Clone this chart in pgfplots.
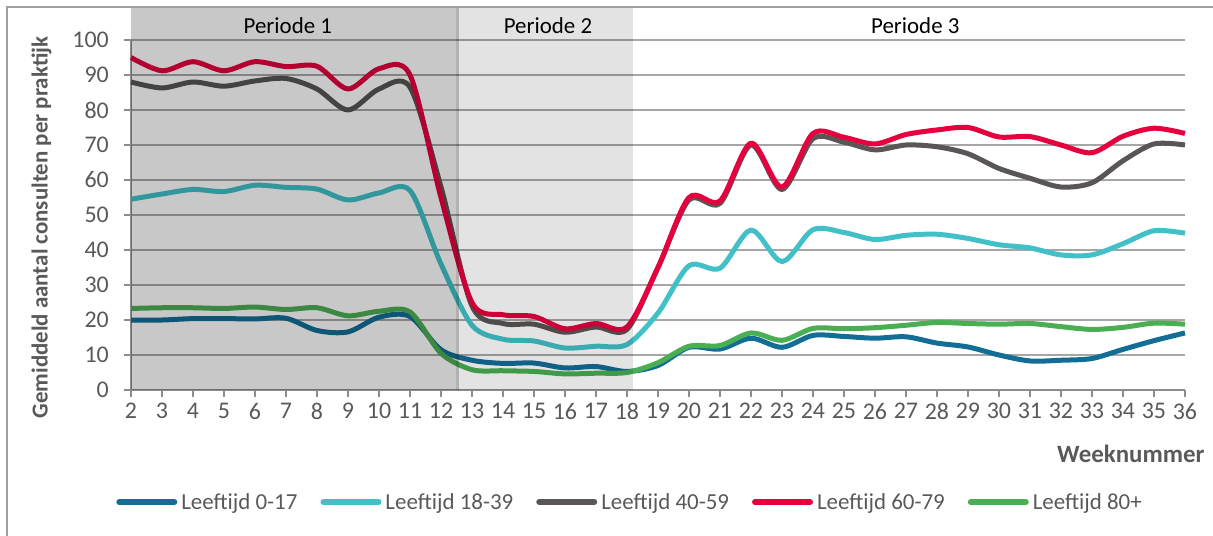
\documentclass[border=0pt]{standalone}
\usepackage{pgfplots}
\pgfplotsset{compat=1.18}
\usepackage{fontspec}
\setmainfont{Carlito}
\definecolor{cblue}{HTML}{136E96}
\definecolor{ccyan}{HTML}{41C1C7}
\definecolor{cgray}{HTML}{595655}
\definecolor{cred}{HTML}{E6003E}
\definecolor{cgreen}{HTML}{4AAE53}
\definecolor{txtgray}{HTML}{595959}
\definecolor{gridgray}{HTML}{A6A6A6}
\definecolor{axgray}{HTML}{8C8C8C}
\definecolor{framegray}{HTML}{A0A0A0}

\pgfplotstableread{
w a b c d e
2 20 54.5 88 95 23.3
3 20 56 86.3 91.2 23.5
4 20.4 57.3 88 93.8 23.5
5 20.4 56.7 86.8 91.2 23.3
6 20.3 58.5 88.3 93.8 23.7
7 20.5 57.9 89 92.4 23
8 17 57.4 86 92.5 23.5
9 16.6 54.3 80 86 21.2
10 20.8 56.3 86 91.8 22.5
11 21 57 86.5 90 22.3
12 11.5 36 58 55 10.5
13 8.5 18.5 24 25 5.8
14 7.6 14.5 19 21.5 5.5
15 7.7 14 18.8 21 5.3
16 6.3 12 16.5 17.5 4.6
17 6.7 12.5 18 19 4.8
18 5.3 13 17.3 18 5
19 7 22 35 35 7.8
20 12.2 35.5 54.3 55 12.5
21 11.7 34.8 53.3 54 12.7
22 14.8 45.7 70 70.5 16.3
23 12.2 36.7 57.3 58 14.2
24 15.6 45.8 71.8 73.3 17.6
25 15.3 45 70.8 72.2 17.5
26 14.8 43 68.6 70.3 17.8
27 15.2 44.2 70 73 18.5
28 13.4 44.5 69.5 74.3 19.3
29 12.3 43.3 67.5 75 19
30 10 41.5 63.3 72.3 18.8
31 8.3 40.6 60.5 72.4 19
32 8.5 38.6 58 70 18.1
33 9 38.6 59.2 67.8 17.3
34 11.6 41.8 65.5 72.5 17.9
35 14.1 45.5 70.3 74.8 19.1
36 16.3 44.8 70 73.3 18.8
}\data

\begin{document}
\begin{tikzpicture}
\useasboundingbox (-131bp,-146bp) rectangle (1082bp,390bp);
\begin{axis}[
  at={(0,0)}, anchor=south west,
  scale only axis,
  width=1054bp, height=350bp,
  xmin=2, xmax=36, ymin=0, ymax=100,
  clip=false,
  axis x line=bottom, axis y line=left,
  axis line style={-, axgray, line width=1.3bp},
  xtick={2,...,36}, ytick={0,10,...,100},
  tick align=outside,
  major tick length=7bp,
  tick style={axgray, line width=1.3bp},
  ymajorgrids,
  grid style={gridgray, line width=1.3bp},
  /pgf/number format/assume math mode=true,
  tick label style={font=\fontsize{24}{27}\selectfont, text=txtgray},
  yticklabel style={inner sep=0pt, xshift=-15bp},
  xticklabel style={inner sep=0pt, yshift=-6bp},
  xlabel={\textbf{Weeknummer}},
  xlabel style={at={(axis description cs:1.0218,-0.181)}, anchor=east, font=\fontsize{25}{28}\selectfont\bfseries, text=txtgray},
  ylabel={Gemiddeld aantal consulten per praktijk},
  ylabel style={at={(axis description cs:-0.085,0.464)}, anchor=center, font=\fontsize{23}{26}\selectfont\bfseries, text=txtgray},
  legend columns=5,
  legend style={at={(axis description cs:0.473,-0.32)}, anchor=center, draw=none, fill=none,
    font=\fontsize{23}{26}\selectfont, text=txtgray,
    nodes={inner sep=1bp},
    /tikz/every odd column/.append style={column sep=3bp},
    /tikz/every even column/.append style={column sep=22bp}},
  legend image code/.code={\draw[#1, line width=6bp, line cap=round] (0bp,0bp) -- (55bp,0bp);},
  every axis plot/.append style={line width=5bp, smooth, tension=0.5, line join=round},
]
\addplot[cblue] table[x=w, y=a] {\data};
\addlegendentry{Leeftijd 0-17}
\addplot[ccyan] table[x=w, y=b] {\data};
\addlegendentry{Leeftijd 18-39}
\addplot[cgray] table[x=w, y=c] {\data};
\addlegendentry{Leeftijd 40-59}
\addplot[cred] table[x=w, y=d] {\data};
\addlegendentry{Leeftijd 60-79}
\addplot[cgreen] table[x=w, y=e] {\data};
\addlegendentry{Leeftijd 80+}
\fill[black, opacity=0.215] (axis cs:2,0) rectangle (axis cs:12.58,109.14);
\fill[black, opacity=0.11] (axis cs:12.48,0) rectangle (axis cs:18.19,109.14);
\node[font=\fontsize{23}{26}\selectfont] at (axis cs:7.06,104) {Periode 1};
\node[font=\fontsize{23}{26}\selectfont] at (axis cs:15.45,104) {Periode 2};
\node[font=\fontsize{23}{26}\selectfont] at (axis cs:27.3,104) {Periode 3};
\end{axis}
\draw[framegray, line width=1.3bp] (-124bp,-150bp) -- (-124bp,383bp) -- (1090bp,383bp);
\end{tikzpicture}
\end{document}
